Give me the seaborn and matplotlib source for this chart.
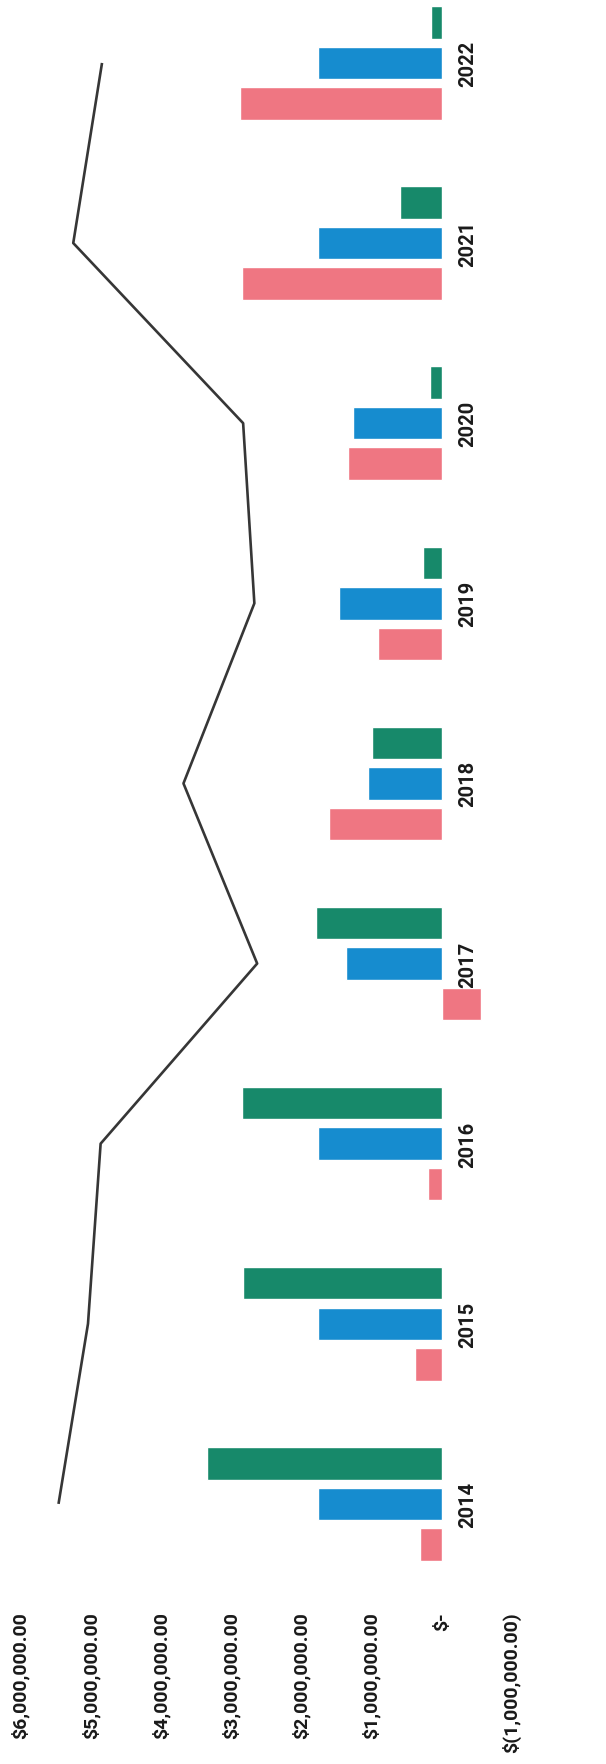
import numpy as np
import pandas as pd
import matplotlib
matplotlib.use("Agg")
import matplotlib.pyplot as plt
import seaborn as sns

years = ["2014", "2015", "2016", "2017", "2018", "2019", "2020", "2021", "2022"]
pink_vals = [0.31e6, 0.38e6, 0.19e6, -0.56e6, 1.60e6, 0.91e6, 1.34e6, 2.84e6, 2.88e6]
blue_vals = [1.77e6, 1.77e6, 1.76e6, 1.36e6, 1.05e6, 1.47e6, 1.27e6, 1.77e6, 1.77e6]
green_vals = [3.35e6, 2.83e6, 2.84e6, 1.79e6, 0.99e6, 0.27e6, 0.17e6, 0.59e6, 0.15e6]
total_vals = [5.46e6, 5.04e6, 4.86e6, 2.63e6, 3.68e6, 2.67e6, 2.83e6, 5.25e6, 4.84e6]

tick_vals = [6e6, 5e6, 4e6, 3e6, 2e6, 1e6, 0, -1e6]
tick_labels = ["$6,000,000.00", "$5,000,000.00", "$4,000,000.00", "$3,000,000.00",
               "$2,000,000.00", "$1,000,000.00", "$-", "$(1,000,000.00)"]

series_names = ["green", "blue", "pink"]
palette = {"green": "#17896A", "blue": "#168CCF", "pink": "#EF7682"}

df = pd.DataFrame({
    "year": years * 3,
    "series": ["green"] * 9 + ["blue"] * 9 + ["pink"] * 9,
    "value": green_vals + blue_vals + pink_vals,
})

sns.set_style("white")
plt.rcParams["font.family"] = ["Roboto", "DejaVu Sans"]

fig = plt.figure(figsize=(6.06, 17.65), dpi=100)
ax = fig.add_axes([0, 165 / 1765, 1, 1600 / 1765])

order = years[::-1]  # 2022 at top
sns.barplot(data=df, x="value", y="year", hue="series", order=order,
            hue_order=series_names, palette=palette, orient="h",
            width=0.675, gap=0.2, legend=False, ax=ax, saturation=1)

# totals line through the group centres
pos = [order.index(y) for y in years]
ax.plot(total_vals, pos, color="#363636", lw=1.9, solid_capstyle="butt", zorder=5)

for y, p in zip(years, pos):
    ax.text(-0.373e6, p, y, rotation=90, ha="center", va="center",
            fontsize=14.5, fontweight="bold", color="#1a1a1a")

ax.set_xlim(6.2934e6, -2.339e6)
ax.set_ylim(8.528, -0.355)
ax.set_xticks(tick_vals)
ax.set_xticklabels(tick_labels, rotation=90, fontsize=14, fontweight="bold",
                   color="#1a1a1a")
ax.tick_params(axis="x", length=0, pad=9)
ax.set_yticks([])
ax.set_xlabel("")
ax.set_ylabel("")
for s in ax.spines.values():
    s.set_visible(False)

fig.savefig("out.png", dpi=100)
